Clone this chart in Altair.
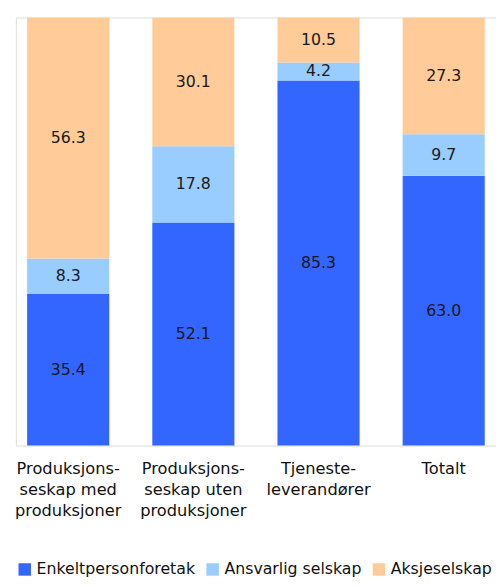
import altair as alt
import pandas as pd

categories = ["Produksjons-|seskap med|produksjoner",
              "Produksjons-|seskap uten|produksjoner",
              "Tjeneste-|leverandører",
              "Totalt"]
series = ["Enkeltpersonforetak", "Ansvarlig selskap", "Aksjeselskap"]
enkelt = [35.4, 52.1, 85.3, 63.0]
ansvarlig = [8.3, 17.8, 4.2, 9.7]
aksje = [56.3, 30.1, 10.5, 27.3]
colors = ["#3366ff", "#99ccff", "#ffcc99"]

rows = []
for i, c in enumerate(categories):
    for j, (s, vals) in enumerate(zip(series, [enkelt, ansvarlig, aksje])):
        rows.append({"cat": c, "serie": s, "val": vals[i], "ord": j})
df = pd.DataFrame(rows)

base = alt.Chart(df).transform_stack(
    stack="val", groupby=["cat"], as_=["y0", "y1"],
    sort=[alt.SortField("ord", order="ascending")]
).transform_calculate(
    mid="(datum.y0 + datum.y1) / 2",
    lbl="format(datum.val, '.1f')"
)

xenc = alt.X("cat:N", sort=categories, title=None,
             scale=alt.Scale(paddingInner=0.344, paddingOuter=0.09),
             axis=alt.Axis(labelExpr="split(datum.label, '|')", labelAngle=0,
                           labelFont="DejaVu Sans", labelFontSize=16.5,
                           labelColor="#111111", labelPadding=15,
                           labelLineHeight=21.5, domain=False, ticks=False,
                           labelBaseline="top"))
yscale = alt.Scale(domain=[0, 100], nice=False)

bars = base.mark_bar().encode(
    x=xenc,
    y=alt.Y("y0:Q", scale=yscale, axis=None),
    y2="y1:Q",
    color=alt.Color("serie:N", sort=series,
                    scale=alt.Scale(domain=series, range=colors),
                    legend=alt.Legend(title=None, orient="none", direction="horizontal",
                                      legendX=1, legendY=553,
                                      symbolType="square", symbolSize=160,
                                      symbolStrokeWidth=0, labelLimit=0,
                                      labelFont="DejaVu Sans", labelFontSize=16,
                                      labelColor="#111111", columnPadding=9,
                                      labelOffset=4))
)

texts = base.mark_text(font="DejaVu Sans", fontSize=16, color="#1a1a1a").encode(
    x=xenc,
    y=alt.Y("mid:Q", scale=yscale, axis=None),
    text="lbl:N"
)

chart = (bars + texts).properties(
    width=488, height=435,
    autosize=alt.AutoSizeParams(type="none"),
    padding={"left": 8, "top": 5, "right": 0, "bottom": 130}
).configure_view(strokeWidth=0).configure(background="white")

chart.save("out.html", embed_options={"renderer": "svg", "actions": False})
